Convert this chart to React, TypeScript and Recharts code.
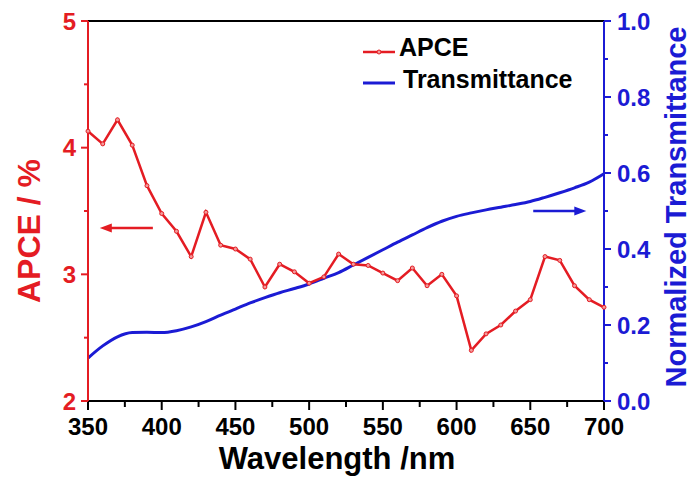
import { ComposedChart, Line, XAxis, YAxis, ReferenceLine, Legend } from 'recharts';

const wavelength = [350, 360, 370, 380, 390, 400, 410, 420, 430, 440, 450, 460, 470, 480, 490, 500, 510, 520,
    530, 540, 550, 560, 570, 580, 590, 600, 610, 620, 630, 640, 650, 660, 670, 680, 690, 700];
const apce = [4.13, 4.03, 4.22, 4.02, 3.70, 3.48, 3.34, 3.14, 3.49, 3.23, 3.20, 3.12, 2.90, 3.08, 3.02, 2.93, 2.98, 3.16,
    3.08, 3.07, 3.01, 2.95, 3.05, 2.91, 3.00, 2.83, 2.40, 2.53, 2.60, 2.71, 2.80, 3.14, 3.11, 2.91, 2.80, 2.74];
const transmittance = [0.113, 0.145, 0.169, 0.180, 0.181, 0.180, 0.185, 0.195, 0.209, 0.226, 0.242, 0.258, 0.272, 0.285, 0.296, 0.308, 0.323, 0.338,
    0.358, 0.378, 0.398, 0.418, 0.437, 0.456, 0.473, 0.486, 0.495, 0.503, 0.510, 0.517, 0.525, 0.536, 0.548, 0.561, 0.576, 0.598];

const xTicks = [350, 375, 400, 425, 450, 475, 500, 525, 550, 575, 600, 625, 650, 675, 700];
const leftTicks = [2, 2.5, 3, 3.5, 4, 4.5, 5];
const rightTicks = [0, 0.1, 0.2, 0.3, 0.4, 0.5, 0.6, 0.7, 0.8, 0.9, 1.0];

const RED = '#e41c23';
const BLUE = '#1b1bd4';
const FONT = '"Liberation Sans", Arial, sans-serif';

const data = wavelength.map((w, i) => ({ w, apce: apce[i], trans: transmittance[i] }));

const XTick = (props: any) => {
    const { x, y, payload } = props;
    const major = payload.value % 50 === 0;
    return (
        <g>
            <line x1={x} x2={x} y1={y} y2={y + (major ? 9 : 6)} stroke="#000" strokeWidth={2} />
            {major && (
                <text x={x} y={y + 34} textAnchor="middle" fontSize={24} fontWeight="bold" fontFamily={FONT} fill="#000">
                    {payload.value}
                </text>
            )}
        </g>
    );
};

const LeftTick = (props: any) => {
    const { x, y, payload } = props;
    const major = Number.isInteger(payload.value);
    return (
        <g>
            <line x1={x - (major ? 7 : 4)} x2={x} y1={y} y2={y} stroke={RED} strokeWidth={2} />
            {major && (
                <text x={x - 12} y={y + 8.5} textAnchor="end" fontSize={24} fontWeight="bold" fontFamily={FONT} fill={RED}>
                    {payload.value}
                </text>
            )}
        </g>
    );
};

const RightTick = (props: any) => {
    const { x, y, payload } = props;
    const major = Math.round(payload.value * 10) % 2 === 0;
    return (
        <g>
            <line x1={x} x2={x + (major ? 7 : 4)} y1={y} y2={y} stroke={BLUE} strokeWidth={2} />
            {major && (
                <text x={x + 13} y={y + 8.5} textAnchor="start" fontSize={24} fontWeight="bold" fontFamily={FONT} fill={BLUE}>
                    {payload.value.toFixed(1)}
                </text>
            )}
        </g>
    );
};

// arrow drawn along a reference segment, head at the first point
const Arrow = (color: string) => (props: any) => {
    const { x1, y1, x2, y2 } = props;
    const dir = x2 > x1 ? 1 : -1;
    return (
        <g>
            <line x1={x1 + dir * 6} y1={y1} x2={x2} y2={y2} stroke={color} strokeWidth={2.5} />
            <polygon points={`${x1},${y1} ${x1 + dir * 12},${y1 - 4.5} ${x1 + dir * 12},${y1 + 4.5}`} fill={color} />
        </g>
    );
};

const LegendBox = () => (
    <svg width={240} height={75} style={{ display: 'block' }}>
        <line x1={3} x2={35} y1={24} y2={24} stroke={RED} strokeWidth={2.5} />
        <circle cx={19} cy={24} r={2} fill="#f39a9a" stroke={RED} strokeWidth={1} />
        <text x={39} y={28} fontSize={25} fontWeight="bold" fontFamily={FONT} fill="#000">APCE</text>
        <line x1={3} x2={35} y1={55} y2={55} stroke={BLUE} strokeWidth={3} />
        <text x={43} y={60} fontSize={25} fontWeight="bold" fontFamily={FONT} fill="#000">Transmittance</text>
    </svg>
);

export default function App() {
    return (
        <div style={{ position: 'absolute', left: 0, top: 0, background: '#fff' }}>
            <ComposedChart width={693} height={480} data={data} margin={{ top: 21, right: 0, left: 0, bottom: 0 }}>
                <XAxis
                    dataKey="w"
                    type="number"
                    domain={[350, 700]}
                    ticks={xTicks}
                    interval={0}
                    height={79}
                    tickSize={0}
                    tickMargin={0}
                    tickLine={false}
                    tick={<XTick />}
                    axisLine={{ stroke: '#000', strokeWidth: 2 }}
                    label={{
                        content: () => (
                            <text x={337} y={469} textAnchor="middle" fontSize={31} fontWeight="bold" fontFamily={FONT} fill="#000">
                                Wavelength /nm
                            </text>
                        ),
                    }}
                />
                <YAxis
                    yAxisId="left"
                    domain={[2, 5]}
                    ticks={leftTicks}
                    interval={0}
                    width={88}
                    tickSize={0}
                    tickMargin={0}
                    tickLine={false}
                    tick={<LeftTick />}
                    axisLine={{ stroke: RED, strokeWidth: 2 }}
                    label={{
                        content: () => (
                            <text x={40} y={231} transform="rotate(-90, 40, 231)" textAnchor="middle" fontSize={32} fontWeight="bold" fontFamily={FONT} fill={RED}>
                                APCE / %
                            </text>
                        ),
                    }}
                />
                <YAxis
                    yAxisId="right"
                    orientation="right"
                    domain={[0, 1]}
                    ticks={rightTicks}
                    interval={0}
                    width={89}
                    tickSize={0}
                    tickMargin={0}
                    tickLine={false}
                    tick={<RightTick />}
                    axisLine={{ stroke: BLUE, strokeWidth: 2 }}
                    label={{
                        content: () => (
                            <text x={686} y={207} transform="rotate(-90, 686, 207)" textAnchor="middle" fontSize={29} fontWeight="bold" fontFamily={FONT} fill={BLUE}>
                                Normalized Transmittance
                            </text>
                        ),
                    }}
                />
                <ReferenceLine yAxisId="left" y={5} stroke="#000" strokeWidth={2} />
                <ReferenceLine
                    yAxisId="left"
                    segment={[{ x: 358, y: 3.365 }, { x: 394, y: 3.365 }]}
                    shape={Arrow(RED)}
                />
                <ReferenceLine
                    yAxisId="right"
                    segment={[{ x: 688, y: 0.5 }, { x: 652, y: 0.5 }]}
                    shape={Arrow(BLUE)}
                />
                <Line
                    yAxisId="right"
                    type="monotone"
                    dataKey="trans"
                    stroke={BLUE}
                    strokeWidth={3}
                    dot={false}
                    isAnimationActive={false}
                />
                <Line
                    yAxisId="left"
                    type="linear"
                    dataKey="apce"
                    stroke={RED}
                    strokeWidth={2.5}
                    dot={{ r: 2, fill: '#f39a9a', stroke: RED, strokeWidth: 1 }}
                    isAnimationActive={false}
                />
                <Legend
                    layout="horizontal"
                    align="center"
                    verticalAlign="middle"
                    content={<LegendBox />}
                    wrapperStyle={{ position: 'absolute', left: 360, top: 28, width: 240, height: 75 }}
                />
            </ComposedChart>
        </div>
    );
}
